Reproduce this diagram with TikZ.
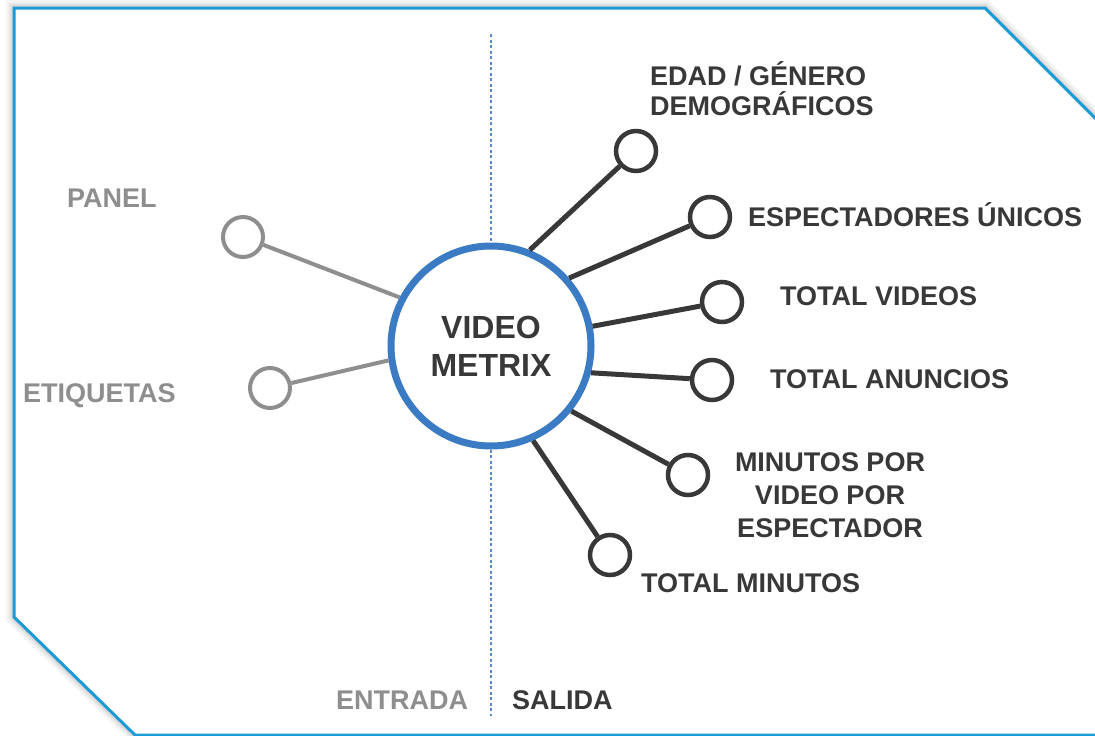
\documentclass[tikz,border=0pt]{standalone}
\usepackage{fontspec}
\setmainfont{Liberation Sans}
\definecolor{frameblue}{HTML}{1C9AD6}
\definecolor{hubblue}{HTML}{3B7BC4}
\definecolor{darkline}{HTML}{383838}
\definecolor{grayline}{HTML}{8E8E8E}
\definecolor{dashblue}{HTML}{5A8CC6}
\tikzset{
  lbl/.style={font=\fontsize{27}{32}\selectfont\bfseries, inner sep=0pt},
  darklbl/.style={lbl, text=darkline},
  graylbl/.style={lbl, text=grayline},
  hub/.style={circle, draw=hubblue, line width=7pt, fill=white, minimum size=200pt, inner sep=0pt,
     font=\fontsize{32}{38}\selectfont\bfseries, text=darkline, align=center},
  outdot/.style={circle, draw=darkline, line width=4.5pt, fill=white, minimum size=40pt, inner sep=0pt},
  indot/.style={circle, draw=grayline, line width=4pt, fill=white, minimum size=40pt, inner sep=0pt},
  outline/.style={draw=darkline, line width=5pt},
  inline/.style={draw=grayline, line width=4pt},
  divider/.style={draw=dashblue, line width=1.6pt, dash pattern=on 3pt off 2.5pt},
}
\begin{document}
\begin{tikzpicture}[x=1pt,y=-1pt]
\useasboundingbox (0,0) rectangle (1095,736);
\clip (0,0) rectangle (1095,736);
% frame with soft shadow
\foreach \w/\o in {16/0.04,11/0.05,7/0.07}{
  \draw[black, opacity=\o, line width=\w pt, line join=miter]
    (14,8) -- (985,8) -- (1115,138) -- (1115,735) -- (135,735) -- (14,617) -- cycle;
}
\draw[frameblue, line width=3pt, fill=white]
  (14,8) -- (985,8) -- (1115,138) -- (1115,735) -- (135,735) -- (14,617) -- cycle;

% hub
\node[hub] (hub) at (491,346) {VIDEO\\METRIX};

% divider
\coordinate (dtop) at (491,34);
\coordinate (dbot) at (491,716);
\draw[divider] (dtop) -- (hub.north);
\draw[divider] (hub.south) -- (dbot);

% input dots
\node[indot] (panel) at (243,237) {};
\node[indot] (etiq) at (270,388) {};
% output dots
\node[outdot] (edad) at (636,151) {};
\node[outdot] (espec) at (710,217) {};
\node[outdot] (tvid) at (722,302) {};
\node[outdot] (tanu) at (712,380) {};
\node[outdot] (mins) at (688,475) {};
\node[outdot] (tmin) at (610,555) {};

% connectors
\draw[inline] (hub.152) -- (panel);
\draw[inline] (hub.188) -- (etiq);
\draw[outline] (hub.68) -- (edad);
\draw[outline] (hub.41) -- (espec);
\draw[outline] (hub.11) -- (tvid);
\draw[outline] (hub.-15) -- (tanu);
\draw[outline] (hub.-39) -- (mins);
\draw[outline] (hub.-66) -- (tmin);

% labels
\node[graylbl, anchor=base west] (lpanel) at (67,207) {PANEL};
\node[graylbl, anchor=base west] (letiq) at (23,402) {ETIQUETAS};
\node[darklbl, anchor=base west, align=left, font=\fontsize{27}{30}\selectfont\bfseries] (ledad) at (650,115) {EDAD / GÉNERO\\DEMOGRÁFICOS};
\node[darklbl, anchor=base west] (lespec) at (748,226) {ESPECTADORES ÚNICOS};
\node[darklbl, anchor=base west] (ltvid) at (780,305) {TOTAL VIDEOS};
\node[darklbl, anchor=base west] (ltanu) at (770,388) {TOTAL ANUNCIOS};
\node[darklbl, anchor=base, align=center, font=\fontsize{27}{33}\selectfont\bfseries] (lmins) at (830,537) {MINUTOS POR\\VIDEO POR\\ESPECTADOR};
\node[darklbl, anchor=base west] (ltmin) at (641,592) {TOTAL MINUTOS};
\node[graylbl, anchor=base west] (lin) at (336,709) {ENTRADA};
\node[darklbl, anchor=base west] (lout) at (512,709) {SALIDA};
\end{tikzpicture}
\end{document}
